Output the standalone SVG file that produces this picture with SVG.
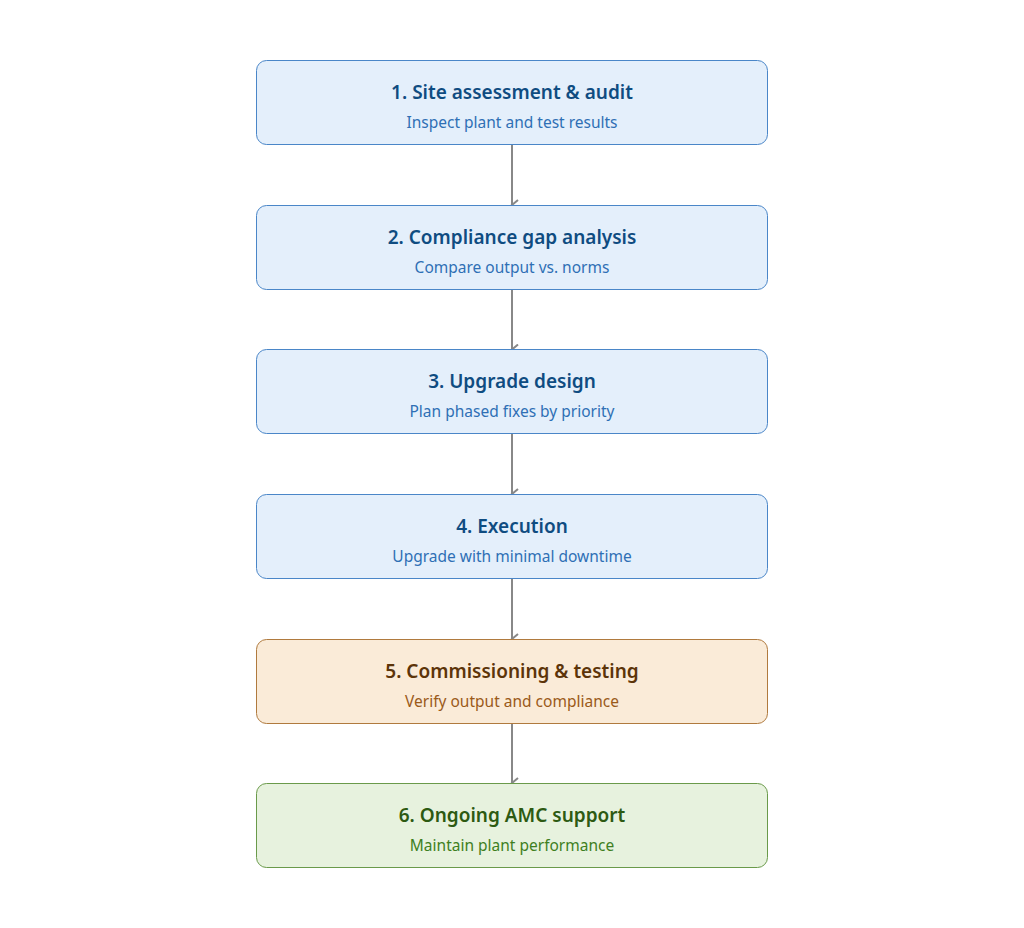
<svg xmlns="http://www.w3.org/2000/svg" width="1024" height="928" viewBox="0 0 1024 928">
<style>
.b rect{stroke-width:1}
.blue rect{fill:#e4effb;stroke:#4a86c8}
.blue .t{fill:#0f4c81}.blue .s{fill:#2f6fb5}
.or rect{fill:#faebd8;stroke:#b07a3e}
.or .t{fill:#5c3409}.or .s{fill:#9a5a1a}
.gr rect{fill:#e7f2de;stroke:#6a9a4a}
.gr .t{fill:#2d5a12}.gr .s{fill:#3f7f1e}
.t{font-family:"Noto Sans","Open Sans",sans-serif;font-size:19px;font-weight:600;text-anchor:middle}
.s{font-family:"Noto Sans","Open Sans",sans-serif;font-size:15.5px;text-anchor:middle}
.c line{stroke:#888;stroke-width:2}
</style>
<defs><marker id="a" markerWidth="12" markerHeight="12" refX="6" refY="10" orient="auto" markerUnits="userSpaceOnUse" viewBox="0 0 12 12"><path d="M1,4 L6,10 L11,4" fill="none" stroke="#888" stroke-width="2"/></marker></defs>
<rect width="1024" height="928" fill="#fff"/>
<g class="c">
<line x1="512" y1="144" x2="512" y2="205" marker-end="url(#a)"/>
<line x1="512" y1="289" x2="512" y2="349.5" marker-end="url(#a)"/>
<line x1="512" y1="433.5" x2="512" y2="494" marker-end="url(#a)"/>
<line x1="512" y1="578" x2="512" y2="639" marker-end="url(#a)"/>
<line x1="512" y1="723" x2="512" y2="783" marker-end="url(#a)"/>
</g>
<g id="n1" class="b blue"><rect x="256.5" y="60.5" width="511" height="84" rx="10"/><text class="t" x="512" y="99">1. Site assessment &amp; audit</text><text class="s" x="512" y="128">Inspect plant and test results</text></g>
<g id="n2" class="b blue"><rect x="256.5" y="205.5" width="511" height="84" rx="10"/><text class="t" x="512" y="244">2. Compliance gap analysis</text><text class="s" x="512" y="273">Compare output vs. norms</text></g>
<g id="n3" class="b blue"><rect x="256.5" y="349.5" width="511" height="84" rx="10"/><text class="t" x="512" y="388">3. Upgrade design</text><text class="s" x="512" y="417">Plan phased fixes by priority</text></g>
<g id="n4" class="b blue"><rect x="256.5" y="494.5" width="511" height="84" rx="10"/><text class="t" x="512" y="533">4. Execution</text><text class="s" x="512" y="562">Upgrade with minimal downtime</text></g>
<g id="n5" class="b or"><rect x="256.5" y="639.5" width="511" height="84" rx="10"/><text class="t" x="512" y="678">5. Commissioning &amp; testing</text><text class="s" x="512" y="707">Verify output and compliance</text></g>
<g id="n6" class="b gr"><rect x="256.5" y="783.5" width="511" height="84" rx="10"/><text class="t" x="512" y="822">6. Ongoing AMC support</text><text class="s" x="512" y="851">Maintain plant performance</text></g>
</svg>
